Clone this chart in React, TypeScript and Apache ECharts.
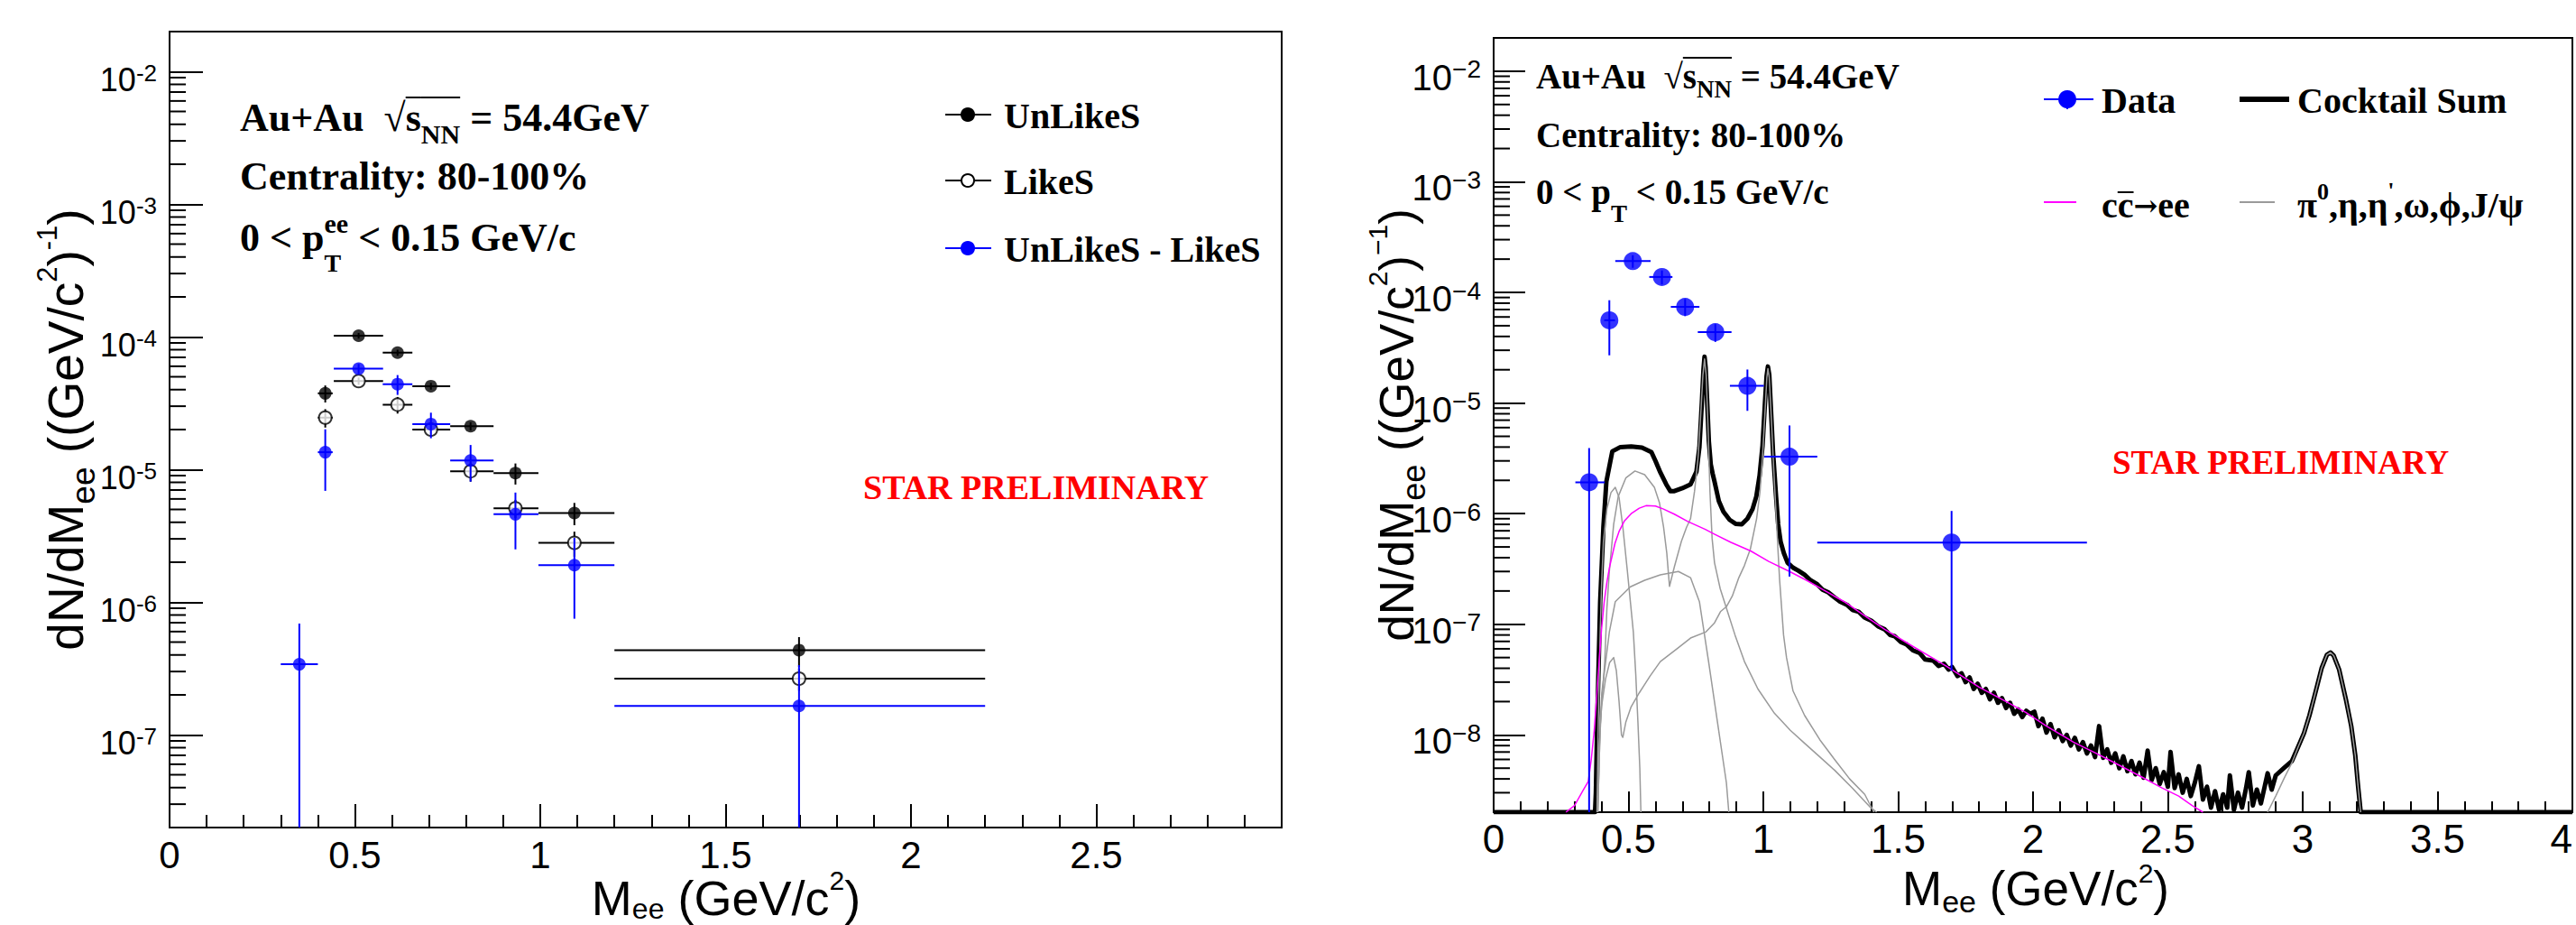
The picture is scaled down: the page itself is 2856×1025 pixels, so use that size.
import React, { useEffect, useRef } from 'react';
import * as echarts from 'echarts';

// ---------------- axis ranges ----------------
const LEFT_X_MAX = 3;
const RIGHT_X_MAX = 4;
const X_TICK_STEP = 0.5;
const LEFT_Y_MIN = 2e-8;
const LEFT_Y_MAX = 2e-2;
const RIGHT_Y_MIN = 2e-9;
const RIGHT_Y_MAX = 2e-2;

// ---------------- left panel: UnLikeS / LikeS / difference ----------------
const pairX = [0.42, 0.51, 0.615, 0.705, 0.812, 0.933, 1.092, 1.698];
const pairXLo = [0.40, 0.443, 0.575, 0.655, 0.757, 0.874, 0.995, 1.2];
const pairXHi = [0.44, 0.576, 0.655, 0.757, 0.874, 0.995, 1.2, 2.2];
const unlikeY = [3.75e-5, 1.02e-4, 7.6e-5, 4.25e-5, 2.12e-5, 9.4e-6, 4.7e-6, 4.35e-7];
const unlikeErr = [0.55e-5, 0.5e-5, 0.4e-5, 0.25e-5, 0.15e-5, 1.7e-6, 0.9e-6, 1.1e-7];
const likeY = [2.46e-5, 4.64e-5, 3.08e-5, 2.0e-5, 9.7e-6, 5.1e-6, 2.8e-6, 2.65e-7];
const likeErr = [0.39e-5, 0.3e-5, 0.44e-5, 0.2e-5, 1.6e-6, 0.8e-6, 0.6e-6, 0.5e-7];
const diffX = [0.35, 0.42, 0.51, 0.615, 0.705, 0.812, 0.933, 1.092, 1.698];
const diffXLo = [0.30, 0.40, 0.443, 0.575, 0.655, 0.757, 0.874, 0.995, 1.2];
const diffXHi = [0.40, 0.44, 0.576, 0.655, 0.757, 0.874, 0.995, 1.2, 2.2];
const diffY = [3.4e-7, 1.35e-5, 5.75e-5, 4.4e-5, 2.2e-5, 1.17e-5, 4.6e-6, 1.9e-6, 1.65e-7];
const diffErr = [3.5e-7, 0.66e-5, 0.5e-5, 0.75e-5, 0.48e-5, 0.36e-5, 2.1e-6, 1.15e-6, 1.7e-7];

// ---------------- right panel: data ----------------
const dataX = [0.354, 0.429, 0.516, 0.624, 0.71, 0.822, 0.941, 1.097, 1.698];
const dataXLo = [0.303, 0.41, 0.451, 0.577, 0.657, 0.757, 0.876, 1.003, 1.2];
const dataXHi = [0.412, 0.45, 0.582, 0.663, 0.763, 0.882, 1.002, 1.2, 2.2];
const dataY = [1.92e-6, 5.6e-5, 1.92e-4, 1.38e-4, 7.4e-5, 4.37e-5, 1.43e-5, 3.27e-6, 5.48e-7];
const dataErr = [2.0e-6, 2.9e-5, 2.5e-5, 2.0e-5, 1.3e-5, 8e-6, 5.8e-6, 3.0e-6, 5.1e-7];

// ---------------- right panel: cocktail ----------------
const cocktailSum: [number, number][] = [
  [0, 2e-9], [0.376, 2e-9], [0.379, 3e-9], [0.384, 1.3e-8], [0.395, 1.6e-7], [0.407, 7.6e-7], [0.418, 1.95e-6],
  [0.44, 3.66e-6], [0.47, 4.0e-6], [0.51, 4.05e-6], [0.55, 3.95e-6], [0.585, 3.6e-6], [0.60, 3.0e-6],
  [0.618, 2.36e-6], [0.64, 1.84e-6], [0.655, 1.6e-6], [0.67, 1.6e-6], [0.70, 1.7e-6], [0.73, 1.84e-6],
  [0.752, 2.4e-6], [0.763, 4e-6], [0.772, 1.0e-5], [0.778, 2.0e-5], [0.782, 2.63e-5], [0.786, 2.1e-5],
  [0.792, 1.0e-5], [0.798, 4.5e-6], [0.805, 2.8e-6], [0.812, 2.3e-6], [0.819, 1.95e-6], [0.835, 1.3e-6],
  [0.852, 1.04e-6], [0.875, 8.8e-7], [0.897, 8.1e-7], [0.92, 8.0e-7], [0.941, 9.0e-7], [0.96, 1.1e-6],
  [0.974, 1.43e-6], [0.986, 2.2e-6], [0.997, 4.1e-6], [1.006, 1.0e-5], [1.012, 1.75e-5], [1.017, 2.14e-5],
  [1.022, 1.8e-5], [1.029, 8e-6], [1.036, 3.6e-6], [1.041, 2.4e-6], [1.047, 1.45e-6], [1.055, 8e-7],
  [1.064, 5.6e-7], [1.076, 4.4e-7], [1.09, 3.6e-7], [1.11, 3.25e-7], [1.13, 3.05e-7], [1.153, 2.8e-7],
  [1.175, 2.5e-7], [1.2, 2.3e-7], [1.22, 2.05e-7], [1.24, 1.95e-7], [1.264, 1.75e-7], [1.285, 1.6e-7],
  [1.31, 1.5e-7], [1.33, 1.35e-7], [1.353, 1.3e-7], [1.375, 1.15e-7], [1.40, 1.08e-7], [1.425, 9.6e-8],
  [1.45, 9.0e-8], [1.47, 8.0e-8], [1.487, 7.8e-8], [1.51, 6.9e-8], [1.53, 6.6e-8], [1.555, 5.8e-8],
  [1.58, 5.5e-8], [1.60, 4.8e-8], [1.63, 4.7e-8], [1.65, 4.2e-8], [1.67, 4.4e-8], [1.687, 3.9e-8],
  [1.70, 4.1e-8], [1.72, 3.4e-8], [1.735, 3.6e-8], [1.75, 3.0e-8], [1.765, 3.3e-8], [1.78, 2.6e-8],
  [1.795, 2.9e-8], [1.81, 2.4e-8], [1.825, 2.6e-8], [1.84, 2.1e-8], [1.855, 2.4e-8], [1.87, 1.95e-8],
  [1.885, 2.15e-8], [1.90, 1.75e-8], [1.915, 1.95e-8], [1.93, 1.55e-8], [1.945, 1.7e-8], [1.96, 1.45e-8],
  [1.975, 1.65e-8], [1.99, 1.55e-8], [2.005, 1.62e-8], [2.02, 1.2e-8], [2.035, 1.4e-8], [2.05, 1.05e-8],
  [2.065, 1.25e-8], [2.08, 9.5e-9], [2.095, 1.1e-8], [2.11, 8.8e-9], [2.125, 1.0e-8], [2.14, 8.0e-9],
  [2.155, 9.4e-9], [2.17, 7.4e-9], [2.185, 8.6e-9], [2.20, 6.8e-9], [2.215, 8.0e-9], [2.23, 6.3e-9],
  [2.245, 1.2e-8], [2.26, 6.2e-9], [2.275, 7.4e-9], [2.29, 5.6e-9], [2.305, 6.8e-9], [2.32, 5.0e-9],
  [2.335, 6.4e-9], [2.35, 4.7e-9], [2.365, 5.8e-9], [2.38, 4.4e-9], [2.395, 5.6e-9], [2.41, 4.1e-9],
  [2.425, 7.2e-9], [2.44, 3.9e-9], [2.455, 5.0e-9], [2.47, 3.6e-9], [2.485, 4.6e-9], [2.50, 3.4e-9],
  [2.51, 7.0e-9], [2.525, 3.3e-9], [2.54, 4.4e-9], [2.555, 3.0e-9], [2.57, 4.0e-9], [2.585, 2.8e-9],
  [2.60, 3.7e-9], [2.615, 5.2e-9], [2.63, 2.6e-9], [2.645, 3.4e-9], [2.66, 2.2e-9], [2.675, 3.1e-9],
  [2.69, 2.1e-9], [2.705, 2.9e-9], [2.72, 2.2e-9], [2.73, 4.3e-9], [2.745, 2.1e-9], [2.76, 3.0e-9],
  [2.775, 2.2e-9], [2.79, 3.3e-9], [2.80, 4.6e-9], [2.815, 2.3e-9], [2.83, 3.2e-9], [2.845, 2.4e-9],
  [2.86, 3.5e-9], [2.87, 4.5e-9], [2.885, 3.2e-9], [2.90, 4.3e-9], [2.93, 5.0e-9], [2.96, 5.8e-9],
  [2.985, 8.0e-9], [3.005, 1.04e-8], [3.025, 1.5e-8], [3.045, 2.3e-8], [3.07, 4.0e-8], [3.09, 5.3e-8],
  [3.103, 5.56e-8], [3.115, 5.2e-8], [3.135, 3.9e-8], [3.16, 2.1e-8], [3.18, 1.2e-8], [3.195, 6.5e-9],
  [3.205, 3.5e-9], [3.215, 2e-9], [4.0, 2e-9],
];

const ccbar: [number, number][] = [
  [0.268, 2e-9], [0.30, 2.3e-9], [0.33, 3.1e-9], [0.351, 3.8e-9], [0.362, 6e-9], [0.373, 1.1e-8],
  [0.383, 2.4e-8], [0.391, 4.6e-8], [0.40, 9e-8], [0.41, 1.6e-7], [0.42, 2.4e-7], [0.43, 3.3e-7],
  [0.45, 5.4e-7], [0.465, 6.9e-7], [0.485, 8.6e-7], [0.51, 1.0e-6], [0.54, 1.12e-6], [0.565, 1.18e-6],
  [0.60, 1.17e-6], [0.63, 1.1e-6], [0.67, 9.9e-7], [0.72, 8.5e-7], [0.785, 7.2e-7], [0.82, 6.5e-7],
  [0.88, 5.5e-7], [0.953, 4.6e-7], [1.02, 3.7e-7], [1.097, 3.0e-7], [1.16, 2.5e-7], [1.23, 2.0e-7],
  [1.30, 1.6e-7], [1.37, 1.22e-7], [1.45, 9.0e-8], [1.55, 6.4e-8], [1.677, 4.2e-8], [1.80, 2.7e-8],
  [1.90, 2.0e-8], [1.973, 1.6e-8], [2.05, 1.2e-8], [2.15, 8.6e-9], [2.23, 6.9e-9], [2.296, 5.7e-9],
  [2.40, 4.2e-9], [2.48, 3.3e-9], [2.54, 2.8e-9], [2.59, 2.3e-9], [2.63, 2e-9],
];

const etaDalitz: [number, number][] = [
  [0.383, 2e-9], [0.388, 1.3e-8], [0.395, 8.5e-8], [0.40, 2.2e-7], [0.407, 5.6e-7], [0.42, 1.1e-6],
  [0.435, 1.55e-6], [0.451, 1.73e-6], [0.465, 1.4e-6], [0.479, 7.6e-7], [0.496, 3.0e-7], [0.507, 1.6e-7],
  [0.518, 8.5e-8], [0.527, 3.5e-8], [0.535, 1.3e-8], [0.542, 5e-9], [0.546, 2e-9],
];

const omegaCurve: [number, number][] = [
  [0.386, 2e-9], [0.395, 1.2e-8], [0.412, 4.6e-8], [0.42, 1.4e-7], [0.429, 3e-7], [0.445, 8e-7],
  [0.462, 1.43e-6], [0.49, 2.1e-6], [0.524, 2.43e-6], [0.56, 2.25e-6], [0.596, 1.73e-6], [0.615, 1.25e-6],
  [0.63, 7.6e-7], [0.642, 4.4e-7], [0.652, 2.2e-7], [0.67, 3.3e-7], [0.696, 5.6e-7], [0.715, 7.5e-7],
  [0.73, 9e-7], [0.745, 1.6e-6], [0.758, 3.2e-6], [0.768, 8e-6], [0.776, 1.8e-5], [0.782, 2.5e-5],
  [0.788, 1.8e-5], [0.795, 6e-6], [0.802, 1.6e-6], [0.81, 6e-7], [0.819, 3.6e-7], [0.84, 2.1e-7],
  [0.863, 1.4e-7], [0.895, 8e-8], [0.93, 4.6e-8], [0.98, 2.6e-8], [1.041, 1.57e-8], [1.10, 1.1e-8],
  [1.153, 8.4e-9], [1.21, 6.3e-9], [1.264, 4.8e-9], [1.33, 3.3e-9], [1.398, 2.2e-9], [1.42, 2e-9],
];

const etaPrimeCurve: [number, number][] = [
  [0.386, 2e-9], [0.395, 1.2e-8], [0.401, 2.4e-8], [0.429, 8.5e-8], [0.451, 1.6e-7], [0.507, 2.18e-7],
  [0.56, 2.5e-7], [0.618, 2.8e-7], [0.685, 3.0e-7], [0.73, 2.64e-7], [0.763, 1.6e-7], [0.797, 4.6e-8],
  [0.83, 1.3e-8], [0.863, 3.7e-9], [0.872, 2e-9],
];

const phiCurve: [number, number][] = [
  [0.386, 2e-9], [0.392, 8e-9], [0.40, 1.8e-8], [0.415, 3.2e-8], [0.43, 4.5e-8], [0.445, 5.0e-8],
  [0.455, 3.8e-8], [0.465, 2e-8], [0.474, 1e-8], [0.479, 9.5e-9], [0.49, 1.3e-8], [0.51, 1.8e-8],
  [0.54, 2.4e-8], [0.58, 3.4e-8], [0.618, 4.6e-8], [0.68, 6e-8], [0.73, 7.5e-8], [0.786, 8.5e-8],
  [0.819, 1.03e-7], [0.841, 1.3e-7], [0.864, 1.45e-7], [0.885, 1.8e-7], [0.908, 2.6e-7], [0.93, 3.4e-7],
  [0.952, 4.8e-7], [0.975, 9e-7], [0.988, 1.6e-6], [0.998, 3.6e-6], [1.007, 9e-6], [1.013, 1.7e-5],
  [1.017, 2.05e-5], [1.022, 1.7e-5], [1.03, 7e-6], [1.037, 3e-6], [1.044, 1.4e-6], [1.052, 6e-7],
  [1.06, 2.6e-7], [1.075, 8e-8], [1.086, 5e-8], [1.11, 2.5e-8], [1.153, 1.5e-8], [1.21, 9e-9],
  [1.264, 6e-9], [1.32, 4e-9], [1.376, 2.9e-9], [1.41, 2e-9],
];

const jpsiCurve: [number, number][] = [
  [2.87, 2e-9], [2.90, 2.8e-9], [2.93, 4.0e-9], [2.96, 5.6e-9], [2.985, 8.0e-9], [3.005, 1.04e-8],
  [3.025, 1.5e-8], [3.045, 2.3e-8], [3.07, 4.0e-8], [3.09, 5.3e-8], [3.103, 5.56e-8], [3.115, 5.2e-8],
  [3.135, 3.9e-8], [3.16, 2.1e-8], [3.18, 1.2e-8], [3.195, 6.5e-9], [3.205, 3.5e-9], [3.215, 2e-9],
];

// ---------------- styling ----------------
const SERIF = '"Liberation Serif", "Times New Roman", Times, serif';
const ARROW_FONT = '"DejaVu Serif", "DejaVu Sans", serif';
const SANS = '"Liberation Sans", Arial, Helvetica, sans-serif';
const BLUE = '#0000ff';
const GRAY = '#9a9a9a';
const MAGENTA = '#ff00ff';

let measureCtx: any = null;
function textWidth(t: string, size: number, family: string, weight: string) {
  if (!measureCtx) measureCtx = document.createElement('canvas').getContext('2d');
  measureCtx.font = `${weight} ${size}px ${family}`;
  return measureCtx.measureText(t).width;
}

type Part = { t: string; s: number; dy?: number; stack?: boolean; ol?: number; f?: string };

function partsGroup(
  x: number, y: number, parts: Part[], family: string, weight: string,
  fill: string, align: 'left' | 'center' = 'left', rotation = 0
) {
  let cx = 0;
  let prevStart = 0;
  const placed: any[] = [];
  for (const p of parts) {
    const fam = p.f || family;
    const w = textWidth(p.t, p.s, fam, weight);
    const px = p.stack ? prevStart : cx;
    placed.push({ p, px, w, fam });
    if (p.stack) cx = Math.max(cx, px + w);
    else { prevStart = cx; cx += w; }
  }
  const off = align === 'center' ? -cx / 2 : 0;
  const children: any[] = [];
  for (const { p, px, w, fam } of placed) {
    children.push({
      type: 'text', x: px + off, y: p.dy || 0, silent: true,
      style: { text: p.t, fontSize: p.s, fontFamily: fam, fontWeight: weight, fill, align: 'left', verticalAlign: 'middle' },
    });
    if (p.ol !== undefined) {
      children.push({
        type: 'line', silent: true,
        shape: { x1: px + off, y1: p.ol, x2: px + off + w, y2: p.ol },
        style: { stroke: fill, lineWidth: 2 },
      });
    }
  }
  return { type: 'group', x, y, rotation, silent: true, children };
}

function minorTickValues(min: number, max: number) {
  const out: number[] = [];
  for (let d = -10; d <= 0; d++) {
    for (let m = 2; m <= 9; m++) {
      const v = m * Math.pow(10, d);
      if (v > min * 1.0001 && v < max * 0.9999) out.push(v);
    }
  }
  return out;
}

function minorTickSeries(axisIdx: number, min: number, max: number, len: number) {
  return {
    type: 'custom', xAxisIndex: axisIdx, yAxisIndex: axisIdx, silent: true, clip: false, z: 1,
    data: minorTickValues(min, max).map((v) => [0, v]),
    encode: { x: 0, y: 1 },
    renderItem: (_p: any, api: any) => {
      const c = api.coord([api.value(0), api.value(1)]);
      return { type: 'line', shape: { x1: c[0], y1: c[1], x2: c[0] + len, y2: c[1] }, style: { stroke: '#000', lineWidth: 2 } };
    },
  };
}

function errorSeries(
  axisIdx: number, xs: number[], xlo: number[], xhi: number[], ys: number[], err: number[],
  color: string, width: number, yMin: number, z: number
) {
  return {
    type: 'custom', xAxisIndex: axisIdx, yAxisIndex: axisIdx, silent: true, clip: true, z,
    data: xs.map((x, i) => [x, ys[i], xlo[i], xhi[i], ys[i] - err[i], ys[i] + err[i]]),
    encode: { x: 0, y: 1 },
    renderItem: (_p: any, api: any) => {
      const x = api.value(0);
      const y = api.value(1);
      const lo = Math.max(api.value(4), yMin);
      const hi = api.value(5);
      const c = api.coord([x, y]);
      const l = api.coord([api.value(2), y]);
      const r = api.coord([api.value(3), y]);
      const t = api.coord([x, hi]);
      const b = api.coord([x, lo]);
      const style = { stroke: color, lineWidth: width };
      return {
        type: 'group',
        children: [
          { type: 'line', shape: { x1: l[0], y1: c[1], x2: r[0], y2: c[1] }, style },
          { type: 'line', shape: { x1: c[0], y1: t[1], x2: c[0], y2: b[1] }, style },
        ],
      };
    },
  };
}

function markerSeries(axisIdx: number, xs: number[], ys: number[], size: number, itemStyle: any, z: number) {
  return {
    type: 'scatter', xAxisIndex: axisIdx, yAxisIndex: axisIdx, silent: true, z,
    symbol: 'circle', symbolSize: size, itemStyle,
    data: xs.map((x, i) => [x, ys[i]]),
  };
}

function curveSeries(axisIdx: number, pts: [number, number][], color: string, width: number, z: number) {
  return {
    type: 'line', xAxisIndex: axisIdx, yAxisIndex: axisIdx, silent: true, z,
    showSymbol: false, symbol: 'none', clip: true,
    lineStyle: { color, width, join: 'round' },
    data: pts,
  };
}

function xAxisCfg(idx: number, max: number, tickLen: number, minorLen: number, fontSize: number, margin: number, hideMax: boolean) {
  const line = { color: '#000', width: 2 };
  return {
    gridIndex: idx, type: 'value', min: 0, max, interval: X_TICK_STEP,
    axisLine: { show: true, onZero: false, lineStyle: line },
    axisTick: { show: true, inside: true, length: tickLen, lineStyle: line },
    minorTick: { show: true, splitNumber: 5, length: minorLen, lineStyle: line },
    splitLine: { show: false }, minorSplitLine: { show: false },
    axisLabel: {
      margin, fontSize, fontFamily: SANS, color: '#000',
      showMaxLabel: hideMax ? false : true,
      alignMaxLabel: hideMax ? undefined : 'right',
      formatter: (v: number) => String(v),
    },
  };
}

// b: base "10", e: exponent. Vertical offsets are made with token line heights and top padding.
function yAxisCfg(idx: number, min: number, max: number, tickLen: number, bSize: number, eSize: number, Le: number, padTop: number, minusSign: string) {
  const line = { color: '#000', width: 2 };
  return {
    gridIndex: idx, type: 'log', logBase: 10, min, max, splitNumber: 6,
    axisLine: { show: true, onZero: false, lineStyle: line },
    axisTick: { show: true, inside: true, length: tickLen, lineStyle: line },
    splitLine: { show: false },
    axisLabel: {
      margin: 14, color: '#000', padding: [padTop, 0, 0, 0],
      formatter: (v: number) => {
        const l = Math.log10(v);
        const e = Math.round(l);
        if (Math.abs(l - e) > 1e-6) return '';
        return `{b|10}{e|${minusSign}${-e}}`;
      },
      rich: {
        b: { fontSize: bSize, lineHeight: bSize + 6, fontFamily: SANS, color: '#000' },
        e: { fontSize: eSize, lineHeight: Le, verticalAlign: 'top', fontFamily: SANS, color: '#000' },
      },
    },
  };
}

function buildGraphics() {
  const g: any[] = [];
  const B = 'bold';
  // ---- left annotations ----
  const aL = 44, sL = 30;
  g.push(partsGroup(266, 130, [
    { t: 'Au+Au\u00a0\u00a0\u221a', s: aL },
    { t: 's', s: aL, ol: -22 },
    { t: 'NN', s: sL, dy: 18, ol: -22 },
    { t: ' = 54.4GeV', s: aL },
  ], SERIF, B, '#000'));
  g.push(partsGroup(266, 195, [{ t: 'Centrality: 80-100%', s: aL }], SERIF, B, '#000'));
  g.push(partsGroup(266, 263, [
    { t: '0 < p', s: aL },
    { t: 'ee', s: sL, dy: -16 },
    { t: 'T', s: 28, dy: 28, stack: true },
    { t: ' < 0.15 GeV/c', s: aL },
  ], SERIF, B, '#000'));
  g.push(partsGroup(957, 540, [{ t: 'STAR PRELIMINARY', s: 38 }], SERIF, B, '#ff0000'));

  // ---- left legend ----
  const legL = [
    { y: 127, label: 'UnLikeS', stroke: '#000', fill: '#000' },
    { y: 200, label: 'LikeS', stroke: '#000', fill: '#fff' },
    { y: 275, label: 'UnLikeS - LikeS', stroke: BLUE, fill: BLUE },
  ];
  for (const it of legL) {
    g.push({ type: 'line', silent: true, shape: { x1: 1048, y1: it.y, x2: 1099, y2: it.y }, style: { stroke: it.stroke, lineWidth: 2 } });
    g.push({ type: 'circle', silent: true, shape: { cx: 1073, cy: it.y, r: 7 }, style: { fill: it.fill, stroke: it.stroke, lineWidth: 2 } });
    g.push(partsGroup(1113, it.y + 1, [{ t: it.label, s: 40 }], SERIF, B, '#000'));
  }

  // ---- left axis titles ----
  g.push(partsGroup(805, 995, [
    { t: 'M', s: 54 }, { t: 'ee', s: 32, dy: 12 }, { t: ' (GeV/c', s: 54 }, { t: '2', s: 30, dy: -20 }, { t: ')', s: 54 },
  ], SANS, 'normal', '#000', 'center'));
  g.push(partsGroup(73, 476, [
    { t: 'dN/dM', s: 55 }, { t: 'ee', s: 37, dy: 19 }, { t: ' ((GeV/c', s: 55 }, { t: '2', s: 31, dy: -21 },
    { t: ')', s: 55 }, { t: '-1', s: 31, dy: -21 }, { t: ')', s: 55 },
  ], SANS, 'normal', '#000', 'center', Math.PI / 2));

  // ---- right annotations ----
  const aR = 39, sR = 27;
  g.push(partsGroup(1703, 84, [
    { t: 'Au+Au\u00a0\u00a0\u221a', s: aR },
    { t: 's', s: aR, ol: -20 },
    { t: 'NN', s: sR, dy: 15, ol: -20 },
    { t: ' = 54.4GeV', s: aR },
  ], SERIF, B, '#000'));
  g.push(partsGroup(1703, 149, [{ t: 'Centrality: 80-100%', s: aR }], SERIF, B, '#000'));
  g.push(partsGroup(1703, 212, [
    { t: '0 < p', s: aR }, { t: 'T', s: sR, dy: 25 }, { t: ' < 0.15 GeV/c', s: aR },
  ], SERIF, B, '#000'));
  g.push(partsGroup(2342, 512, [{ t: 'STAR PRELIMINARY', s: 37 }], SERIF, B, '#ff0000'));

  // ---- right legend ----
  g.push({ type: 'line', silent: true, shape: { x1: 2266, y1: 110, x2: 2321, y2: 110 }, style: { stroke: BLUE, lineWidth: 2 } });
  g.push({ type: 'line', silent: true, shape: { x1: 2292, y1: 100, x2: 2292, y2: 121 }, style: { stroke: BLUE, lineWidth: 2 } });
  g.push({ type: 'circle', silent: true, shape: { cx: 2292, cy: 110, r: 10 }, style: { fill: BLUE } });
  g.push(partsGroup(2330, 111, [{ t: 'Data', s: 40 }], SERIF, B, '#000'));
  g.push({ type: 'line', silent: true, shape: { x1: 2483, y1: 110, x2: 2538, y2: 110 }, style: { stroke: '#000', lineWidth: 6 } });
  g.push(partsGroup(2547, 111, [{ t: 'Cocktail Sum', s: 40 }], SERIF, B, '#000'));
  g.push({ type: 'line', silent: true, shape: { x1: 2266, y1: 224, x2: 2302, y2: 224 }, style: { stroke: MAGENTA, lineWidth: 2 } });
  g.push(partsGroup(2330, 227, [
    { t: 'c', s: 40 }, { t: 'c', s: 40, ol: -14 }, { t: '\u2192', s: 32, f: ARROW_FONT, dy: 1 }, { t: 'ee', s: 40 },
  ], SERIF, B, '#000'));
  g.push({ type: 'line', silent: true, shape: { x1: 2483, y1: 224, x2: 2522, y2: 224 }, style: { stroke: GRAY, lineWidth: 2 } });
  g.push(partsGroup(2547, 227, [
    { t: '\u03c0', s: 40 }, { t: '0', s: 26, dy: -15 }, { t: ',\u03b7,\u03b7', s: 40 }, { t: "'", s: 26, dy: -16 },
    { t: ',\u03c9,\u03d5,J/\u03c8', s: 40 },
  ], SERIF, B, '#000'));

  // ---- right axis titles ----
  g.push(partsGroup(2257, 984, [
    { t: 'M', s: 53 }, { t: 'ee', s: 34, dy: 15 }, { t: ' (GeV/c', s: 53 }, { t: '2', s: 30, dy: -17 }, { t: ')', s: 53 },
  ], SANS, 'normal', '#000', 'center'));
  g.push(partsGroup(1548, 471, [
    { t: 'dN/dM', s: 53 }, { t: 'ee', s: 36, dy: 19 }, { t: ' ((GeV/c', s: 53 }, { t: '2', s: 30, dy: -21 },
    { t: ')', s: 53 }, { t: '\u22121', s: 30, dy: -21 }, { t: ')', s: 53 },
  ], SANS, 'normal', '#000', 'center', Math.PI / 2));
  return g;
}

export default function App() {
  const ref = useRef<HTMLDivElement>(null);
  useEffect(() => {
    if (!ref.current) return;
    const chart = echarts.init(ref.current, null, { renderer: 'svg' });
    const option: any = {
      animation: false,
      backgroundColor: '#fff',
      grid: [
        { left: 188, top: 35, width: 1233, height: 882, show: true, borderColor: '#000', borderWidth: 2, backgroundColor: 'transparent', containLabel: false, outerBoundsMode: 'none' },
        { left: 1656, top: 42, width: 1196, height: 858, show: true, borderColor: '#000', borderWidth: 2, backgroundColor: 'transparent', containLabel: false, outerBoundsMode: 'none' },
      ],
      xAxis: [
        xAxisCfg(0, LEFT_X_MAX, 26, 14, 42, 9, true),
        xAxisCfg(1, RIGHT_X_MAX, 23, 12, 44, 7, false),
      ],
      yAxis: [
        yAxisCfg(0, LEFT_Y_MIN, LEFT_Y_MAX, 37, 36, 26, 3, 19, '-'),
        yAxisCfg(1, RIGHT_Y_MIN, RIGHT_Y_MAX, 35, 40, 28, 19, 14, '\u2212'),
      ],
      series: [
        minorTickSeries(0, LEFT_Y_MIN, LEFT_Y_MAX, 18),
        minorTickSeries(1, RIGHT_Y_MIN, RIGHT_Y_MAX, 18),
        // left
        errorSeries(0, pairX, pairXLo, pairXHi, unlikeY, unlikeErr, '#000', 2, LEFT_Y_MIN, 3),
        markerSeries(0, pairX, unlikeY, 14, { color: '#000' }, 4),
        errorSeries(0, pairX, pairXLo, pairXHi, likeY, likeErr, '#000', 2, LEFT_Y_MIN, 5),
        markerSeries(0, pairX, likeY, 14, { color: '#fff', borderColor: '#000', borderWidth: 2 }, 6),
        errorSeries(0, diffX, diffXLo, diffXHi, diffY, diffErr, BLUE, 2, LEFT_Y_MIN, 7),
        markerSeries(0, diffX, diffY, 14, { color: BLUE }, 8),
        // right
        curveSeries(1, cocktailSum, '#000', 5, 3),
        curveSeries(1, etaDalitz, GRAY, 1.5, 4),
        curveSeries(1, omegaCurve, GRAY, 1.5, 4),
        curveSeries(1, etaPrimeCurve, GRAY, 1.5, 4),
        curveSeries(1, phiCurve, GRAY, 1.5, 4),
        curveSeries(1, jpsiCurve, GRAY, 1.5, 4),
        curveSeries(1, ccbar, MAGENTA, 1.5, 5),
        errorSeries(1, dataX, dataXLo, dataXHi, dataY, dataErr, BLUE, 2, RIGHT_Y_MIN, 6),
        markerSeries(1, dataX, dataY, 20, { color: BLUE }, 7),
      ],
      graphic: buildGraphics(),
    };
    chart.setOption(option);
    return () => chart.dispose();
  }, []);
  return (
    <div
      ref={ref}
      style={{ position: 'absolute', left: 0, top: 0, width: 2856, height: 1025, background: '#fff' }}
    />
  );
}
